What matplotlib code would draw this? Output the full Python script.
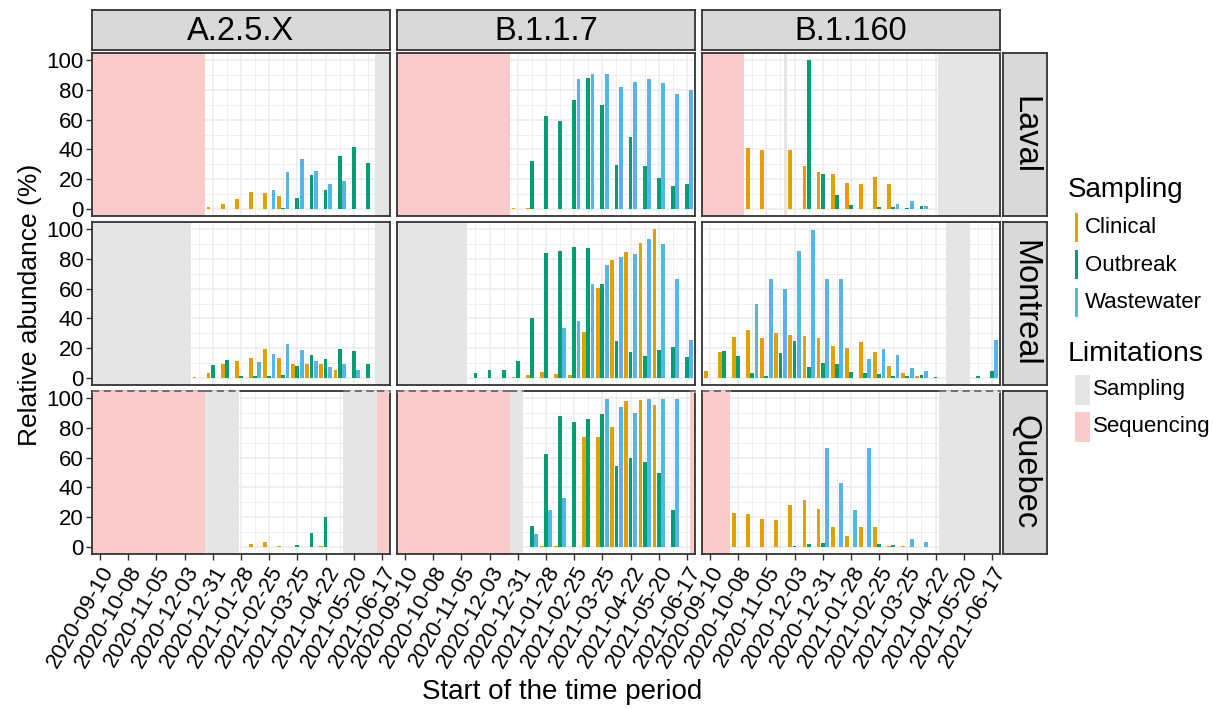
import numpy as np
import pandas as pd
import matplotlib
matplotlib.use("Agg")
import matplotlib.pyplot as plt
from matplotlib.patches import Rectangle

plt.rcParams['font.family'] = ['Liberation Sans', 'DejaVu Sans']

# ---- data -----------------------------------------------------------------
start = pd.Timestamp('2020-09-10')
n_periods = 21          # 14-day periods
variants = ['A.2.5.X', 'B.1.1.7', 'B.1.160']
regions = ['Laval', 'Montreal', 'Quebec']
nan = np.nan

def series(pairs):
    out = [nan] * n_periods
    for k, v in pairs.items():
        out[k] = v
    return out

# Laval
laval_a25x_clin = series({8: 1.3, 9: 2.9, 10: 6.3, 11: 11.2, 12: 10.5, 13: 8.5})
laval_a25x_out = series({13: 0.5, 14: 6.9, 15: 22.8, 16: 12.8, 17: 35.6, 18: 41.4, 19: 30.6})
laval_a25x_ww = series({12: 12.3, 13: 24.8, 14: 33.3, 15: 25.7, 16: 16.6, 17: 18.6})

laval_b117_clin = series({8: 0.5, 9: 0.5})
laval_b117_out = series({9: 31.8, 10: 62.4, 11: 59.1, 12: 73.2, 13: 88.1, 14: 70.2, 15: 29.5,
                         16: 48.3, 17: 28.9, 18: 20.8, 19: 15.4, 20: 16.8})
laval_b117_ww = series({12: 87.2, 13: 90.6, 14: 90.6, 15: 81.9, 16: 85.7, 17: 87.2, 18: 84.6,
                        19: 77.0, 20: 79.9})

laval_b1160_clin = series({3: 41.2, 4: 39.4, 6: 39.4, 7: 28.9, 8: 24.8, 9: 23.3, 10: 17.2,
                           11: 16.3, 12: 21.3, 13: 16.8})
laval_b1160_out = series({7: 100, 8: 23.3, 9: 9.2, 10: 2.7, 12: 1.3, 13: 1.1, 14: 0.4, 15: 1.8})
laval_b1160_ww = series({13: 3.1, 14: 4.9, 15: 2.0})

# Montreal
mtl_a25x_clin = series({7: 0.7, 8: 3.4, 9: 8.9, 10: 11.2, 11: 13.0, 12: 19.5, 13: 13.2, 14: 9.4,
                        15: 9.2, 16: 9.2, 17: 5.4})
mtl_a25x_out = series({8: 8.3, 9: 11.9, 10: 1.1, 11: 1.1, 12: 1.1, 13: 1.8, 14: 8.1, 15: 15.2,
                       16: 12.3, 17: 19.0, 18: 18.1, 19: 8.9})
mtl_a25x_ww = series({11: 10.3, 12: 16.1, 13: 22.4, 14: 18.6, 15: 11.2, 16: 6.9, 17: 9.4, 18: 5.1})

mtl_b117_clin = series({8: 0.4, 9: 1.8, 10: 3.6, 11: 2.5, 12: 2.0, 13: 31.1, 14: 60.2, 15: 79.6,
                        16: 84.6, 17: 90.6, 18: 100})
mtl_b117_out = series({5: 3.1, 6: 4.9, 7: 4.9, 8: 11.2, 9: 40.0, 10: 84.1, 11: 85.7, 12: 88.1,
                       13: 87.5, 14: 63.1, 15: 24.4, 16: 17.0, 17: 14.5, 18: 18.8, 19: 20.6, 20: 13.9})
mtl_b117_ww = series({11: 33.3, 12: 38.5, 13: 62.9, 14: 75.8, 15: 81.4, 16: 83.2, 17: 93.7,
                      18: 89.9, 19: 66.4, 20: 25.1})

mtl_b1160_clin = series({0: 4.5, 1: 17.2, 2: 27.3, 3: 31.8, 4: 26.6, 5: 29.8, 6: 28.6, 7: 28.0,
                         8: 26.6, 9: 21.3, 10: 19.9, 11: 23.9, 12: 17.2, 13: 7.6, 14: 3.1, 15: 1.1})
mtl_b1160_out = series({1: 17.7, 2: 14.8, 3: 3.4, 4: 0.9, 5: 16.6, 6: 24.4, 7: 7.2, 8: 9.8, 9: 8.9,
                        10: 3.8, 11: 3.4, 12: 2.7, 13: 1.1, 14: 1.1, 15: 1.6, 16: 0.7, 19: 0.9, 20: 4.5})
mtl_b1160_ww = series({3: 49.9, 4: 66.4, 5: 60.0, 6: 85.5, 7: 99.8, 8: 66.4, 9: 66.4, 11: 12.8,
                       12: 19.2, 13: 15.0, 14: 6.5, 15: 4.3, 20: 25.1})

# Quebec
qc_a25x_clin = series({11: 2.0, 12: 2.9, 13: 0.2, 16: 0.2})
qc_a25x_out = series({14: 0.9, 15: 9.2, 16: 20.1})
qc_a25x_ww = series({})

qc_b117_clin = series({10: 0.4, 11: 0.7, 13: 74.0, 14: 74.0, 15: 80.8, 16: 98.0, 17: 98.9, 18: 95.5})
qc_b117_out = series({9: 14.1, 10: 62.4, 11: 88.4, 12: 83.9, 13: 85.9, 14: 89.3, 15: 54.4,
                      16: 60.0, 17: 56.8, 18: 49.9, 19: 24.8})
qc_b117_ww = series({9: 8.5, 10: 24.8, 11: 33.1, 14: 99.8, 15: 94.2, 16: 90.2, 17: 99.8,
                     18: 99.8, 19: 99.8})

qc_b1160_clin = series({2: 22.6, 3: 21.7, 4: 18.8, 5: 17.9, 6: 28.2, 7: 31.3, 8: 25.1, 9: 13.0,
                        10: 6.9, 11: 13.4, 12: 13.2, 13: 0.2, 14: 0.1})
qc_b1160_out = series({6: 0.7, 7: 1.6, 8: 2.5, 12: 1.8, 13: 1.3})
qc_b1160_ww = series({8: 66.4, 9: 43.2, 10: 24.8, 11: 66.4, 14: 4.9, 15: 2.9})

bars = {
    ('Laval', 'A.2.5.X'): (laval_a25x_clin, laval_a25x_out, laval_a25x_ww),
    ('Laval', 'B.1.1.7'): (laval_b117_clin, laval_b117_out, laval_b117_ww),
    ('Laval', 'B.1.160'): (laval_b1160_clin, laval_b1160_out, laval_b1160_ww),
    ('Montreal', 'A.2.5.X'): (mtl_a25x_clin, mtl_a25x_out, mtl_a25x_ww),
    ('Montreal', 'B.1.1.7'): (mtl_b117_clin, mtl_b117_out, mtl_b117_ww),
    ('Montreal', 'B.1.160'): (mtl_b1160_clin, mtl_b1160_out, mtl_b1160_ww),
    ('Quebec', 'A.2.5.X'): (qc_a25x_clin, qc_a25x_out, qc_a25x_ww),
    ('Quebec', 'B.1.1.7'): (qc_b117_clin, qc_b117_out, qc_b117_ww),
    ('Quebec', 'B.1.160'): (qc_b1160_clin, qc_b1160_out, qc_b1160_ww),
}

# limitation periods: (kind, from, to)
limits = {
    ('Laval', 'A.2.5.X'): [('Sequencing', '2020-08-20', '2020-12-23'), ('Sampling', '2021-06-10', '2021-07-10')],
    ('Laval', 'B.1.1.7'): [('Sequencing', '2020-08-20', '2020-12-23')],
    ('Laval', 'B.1.160'): [('Sequencing', '2020-08-20', '2020-10-14'), ('Sampling', '2020-11-22', '2020-11-25'),
                           ('Sampling', '2021-04-24', '2021-07-10')],
    ('Montreal', 'A.2.5.X'): [('Sampling', '2020-08-20', '2020-12-09'), ('Sampling', '2021-06-10', '2021-07-10')],
    ('Montreal', 'B.1.1.7'): [('Sampling', '2020-08-20', '2020-11-11')],
    ('Montreal', 'B.1.160'): [('Sampling', '2021-05-02', '2021-05-26')],
    ('Quebec', 'A.2.5.X'): [('Sequencing', '2020-08-20', '2020-12-23'), ('Sampling', '2020-12-23', '2021-01-26'),
                            ('Sampling', '2021-05-09', '2021-06-12'), ('Sequencing', '2021-06-12', '2021-07-10')],
    ('Quebec', 'B.1.1.7'): [('Sequencing', '2020-08-20', '2020-12-23'), ('Sampling', '2020-12-23', '2021-01-05'),
                            ('Sequencing', '2021-06-20', '2021-07-10')],
    ('Quebec', 'B.1.160'): [('Sequencing', '2020-08-20', '2020-09-30'), ('Sampling', '2021-04-25', '2021-07-10')],
}

sampling_types = ['Clinical', 'Outbreak', 'Wastewater']
colors = {'Clinical': '#E69F00', 'Outbreak': '#009E73', 'Wastewater': '#56B4E9'}
limit_colors = {'Sampling': '#E5E5E5', 'Sequencing': '#F9CBCB'}

periods = pd.date_range(start, periods=n_periods, freq='14D')

def to_k(d):
    return (pd.Timestamp(d) - start).days / 14.0

# ---- layout (pixels) ------------------------------------------------------
W, H = 1214, 709
fig = plt.figure(figsize=(W / 100, H / 100), dpi=100)

def px(l, t, w, h):
    return [l / W, 1 - (t + h) / H, w / W, h / H]

col_left = [92, 397, 702]
row_top = [53, 222, 391]
pw, ph = 298, 163
edge = '#333333'
xlim = (-0.567, 20.57)
ylim = (-5, 105)
k = np.arange(n_periods)
bw = 0.27
offs = [-0.3, 0.0, 0.3]

for i, reg in enumerate(regions):
    for j, var in enumerate(variants):
        ax = fig.add_axes(px(col_left[j], row_top[i], pw, ph))
        ax.set_xlim(xlim)
        ax.set_ylim(ylim)
        ax.set_xticks(np.arange(0, 21, 2))
        ax.set_xticks(np.arange(1, 21, 2), minor=True)
        ax.set_yticks(np.arange(0, 101, 20))
        ax.set_yticks(np.arange(10, 100, 20), minor=True)
        ax.grid(True, which='major', color='#EBEBEB', lw=1.1, zorder=0)
        ax.grid(True, which='minor', color='#EBEBEB', lw=0.55, zorder=0)
        ax.set_axisbelow(True)
        ax.tick_params(which='minor', length=0)
        ax.tick_params(which='major', length=4, width=1, color=edge, labelsize=16,
                       labelcolor='black', pad=2)
        for s in ax.spines.values():
            s.set_color(edge)
            s.set_linewidth(1.3)
            s.set_zorder(5)

        for kind, a, b in limits[(reg, var)]:
            x0, x1 = max(to_k(a), xlim[0]), min(to_k(b), xlim[1])
            ax.axvspan(x0, x1, color=limit_colors[kind], lw=0, zorder=1)
            if reg == 'Quebec':
                ax.plot([x0, x1], [ylim[1], ylim[1]], color=limit_colors[kind], lw=2,
                        zorder=6, clip_on=False, solid_capstyle='butt')
                ax.plot([x0, x1], [ylim[1], ylim[1]], color='#666666', lw=1.3,
                        dashes=(4, 2.5), zorder=7, clip_on=False)

        for s_type, vals, off in zip(sampling_types, bars[(reg, var)], offs):
            v = np.array(vals, dtype=float)
            m = ~np.isnan(v)
            ax.bar(k[m] + off, v[m], width=bw, color=colors[s_type], lw=0, zorder=3)

        if j == 0:
            ax.set_yticklabels([str(t) for t in range(0, 101, 20)])
        else:
            ax.set_yticklabels([])
            ax.tick_params(axis='y', length=0)
        if i == 2:
            ax.set_xticklabels([d.strftime('%Y-%m-%d') for d in periods[::2]],
                               rotation=60, ha='right', va='top', rotation_mode='anchor')
        else:
            ax.set_xticklabels([])
            ax.tick_params(axis='x', length=0)

# strips
strip_bg = '#D9D9D9'
for j, var in enumerate(variants):
    sax = fig.add_axes(px(col_left[j], 10, pw, 40))
    sax.set_facecolor(strip_bg)
    sax.set_xticks([]); sax.set_yticks([])
    for s in sax.spines.values():
        s.set_color(edge); s.set_linewidth(1.3)
    sax.text(0.5, 0.45, var, ha='center', va='center', fontsize=23.5, transform=sax.transAxes)

for i, reg in enumerate(regions):
    sax = fig.add_axes(px(1003, row_top[i], 44, ph))
    sax.set_facecolor(strip_bg)
    sax.set_xticks([]); sax.set_yticks([])
    for s in sax.spines.values():
        s.set_color(edge); s.set_linewidth(1.3)
    sax.text(0.5, 0.5, reg, ha='center', va='center', rotation=270, fontsize=23.5,
             transform=sax.transAxes)

# axis titles
fig.text(30 / W, 1 - 305 / H, 'Relative abundance (%)', rotation=90, ha='center', va='center',
         fontsize=19)
fig.text(562 / W, 1 - 692 / H, 'Start of the time period', ha='center', va='center', fontsize=20)

# legend
fig.text(1068 / W, 1 - 190 / H, 'Sampling', ha='left', va='center', fontsize=20)
for n, s_type in enumerate(sampling_types):
    yc = 228 + n * 37.5
    fig.add_artist(Rectangle(((1075) / W, 1 - (yc + 14) / H), 3 / W, 29 / H,
                             transform=fig.transFigure, color=colors[s_type], lw=0))
    fig.text(1085 / W, 1 - yc / H, s_type, ha='left', va='center', fontsize=16)

fig.text(1068 / W, 1 - 354 / H, 'Limitations', ha='left', va='center', fontsize=20.5)
for n, kind in enumerate(['Sampling', 'Sequencing']):
    yc = 390 + n * 37
    fig.add_artist(Rectangle((1075 / W, 1 - (yc + 15) / H), 15 / W, 30 / H,
                             transform=fig.transFigure, color=limit_colors[kind], lw=0))
    fig.text(1093 / W, 1 - yc / H, kind, ha='left', va='center', fontsize=16)

fig.savefig('out.png', dpi=100)
